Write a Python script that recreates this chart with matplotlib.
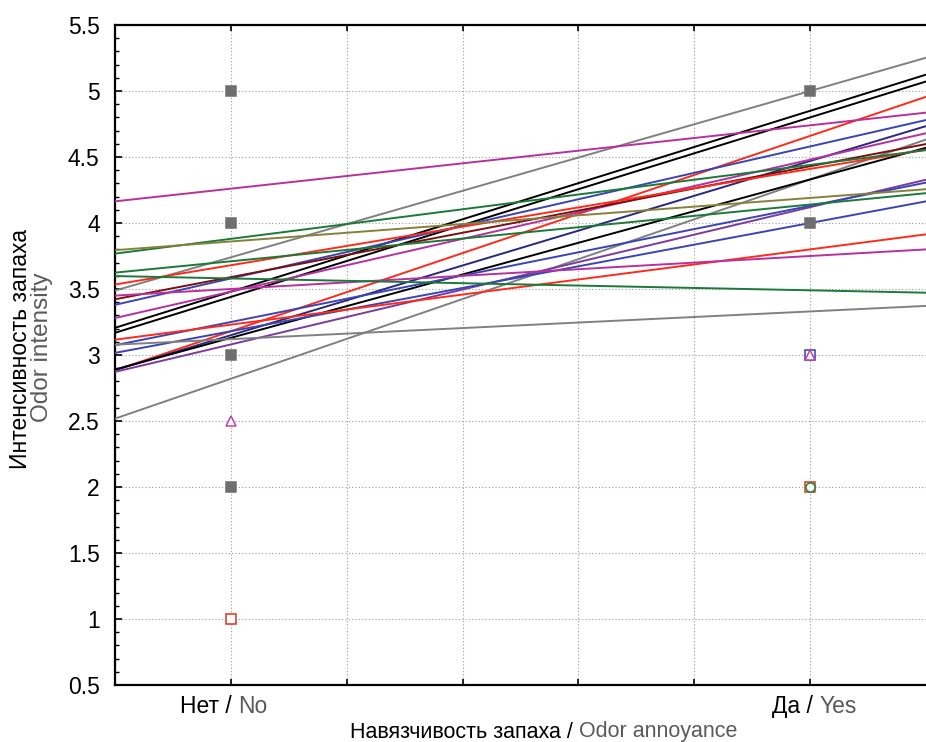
import matplotlib

matplotlib.use("Agg")
import matplotlib.pyplot as plt  # noqa: E402
import numpy as np  # noqa: E402
from matplotlib.ticker import FixedLocator, MultipleLocator, FuncFormatter  # noqa: E402

plt.rcParams["font.family"] = ["Liberation Sans", "DejaVu Sans"]

# ---------- Data ----------
# Fitted value of each respondent's line at "No" (x=0) and at "Yes" (x=1)
LINE_NO = [3.74, 3.48, 3.44, 3.18, 4.26, 3.58, 3.15, 3.48, 2.82, 3.59, 3.13,
           3.68, 3.88, 3.08, 3.25, 3.86, 3.71, 3.18, 3.23, 3.50, 3.58, 3.12]
LINE_YES = [5.00, 4.85, 4.80, 4.66, 4.74, 4.58, 4.47, 4.48, 4.33, 4.43, 4.33,
            4.41, 4.44, 4.12, 4.13, 4.19, 4.14, 4.00, 3.80, 3.75, 3.49, 3.33]
LINE_COLORS = ["#808080", "#000000", "#000000", "#ff2a1a", "#b8309e", "#3a44b4",
               "#27287e", "#b8309e", "#808080", "#7a1010", "#000000", "#ff2a1a",
               "#1a7a3a", "#7c3a9e", "#3a44b4", "#84823a", "#1a7a3a", "#3a44b4",
               "#ff2a1a", "#b8309e", "#1a7a3a", "#808080"]

# Observed answers
PT_X = [0, 0, 0, 0, 0, 0, 1, 1, 1, 1, 1, 1]
PT_Y = [5, 4, 3, 2, 2.5, 1, 5, 4, 3, 3, 2, 2]
PT_MARKER = ["s", "s", "s", "s", "^", "s", "s", "s", "s", "^", "s", "o"]
PT_COLOR = ["#6e6e6e", "#6e6e6e", "#6e6e6e", "#6e6e6e", "#c040b0", "#e03020",
            "#6e6e6e", "#6e6e6e", "#3a3ab0", "#c040b0", "#e03020", "#1a8a3a"]
PT_FILLED = [True, True, True, True, False, False,
             True, True, False, False, False, False]

X_TICKS = [0, 1]
X_LABELS_RU = ["Нет", "Да"]
X_LABELS_EN = ["No", "Yes"]
X_LABEL_SHIFT = [-0.088, -0.066]

GRAY_TEXT = "#5a5a5a"
FS = 16.5

fig = plt.figure(figsize=(9.26, 7.42), dpi=100)
ax = fig.add_axes([115 / 926, 57 / 742, 811 / 926, 660 / 742])

xs = np.array([-0.2, 1.2])
for v0, v1, c in zip(LINE_NO, LINE_YES, LINE_COLORS):
    ax.plot(xs, v0 + (v1 - v0) * xs, color=c, lw=1.4, zorder=3)

for x, y, m, c, filled in zip(PT_X, PT_Y, PT_MARKER, PT_COLOR, PT_FILLED):
    ax.plot([x], [y], marker=m, ms=7 if m == "s" else 6.5, mec=c,
            mfc=c if filled else "white", mew=1.1, ls="none", zorder=4)

ax.set_xlim(-0.2, 1.2)
ax.set_ylim(0.5, 5.5)
ax.xaxis.set_major_locator(FixedLocator([0, 0.2, 0.4, 0.6, 0.8, 1.0]))
ax.set_xticklabels([])
ax.yaxis.set_major_locator(MultipleLocator(0.5))
ax.yaxis.set_minor_locator(MultipleLocator(0.1))
ax.yaxis.set_major_formatter(FuncFormatter(lambda v, _: f"{v:g}"))

ax.grid(True, which="major", color="#9a9a9a", lw=0.8, ls=(0, (1, 2)), zorder=1)
ax.tick_params(axis="both", which="both", direction="in", top=True, right=False,
               color="black")
ax.tick_params(axis="y", which="major", length=5, width=1.2, labelsize=FS, pad=11)
ax.tick_params(axis="y", which="minor", length=3, width=1)
ax.tick_params(axis="x", which="major", length=4, width=1.2)

for side in ("left", "bottom", "top"):
    ax.spines[side].set_linewidth(1.6)
ax.spines["right"].set_visible(False)

# Bilingual category labels
trans = ax.get_xaxis_transform()
for xv, ru, en, dx in zip(X_TICKS, X_LABELS_RU, X_LABELS_EN, X_LABEL_SHIFT):
    t1 = ax.text(xv + dx, -0.032, ru + " / ", transform=trans, ha="left",
                 va="center", fontsize=FS)
    ax.annotate(en, xy=(1, 0), xycoords=t1, va="bottom", ha="left",
                fontsize=FS, color=GRAY_TEXT)

# Axis titles
t2 = fig.text(350 / 926, 1 - 732 / 742, "Навязчивость запаха / ", ha="left",
              va="center", fontsize=15.5)
ax.annotate("Odor annoyance", xy=(1, 0), xycoords=t2, va="bottom", ha="left",
            fontsize=15.5, color=GRAY_TEXT, annotation_clip=False)

fig.text(21 / 926, 1 - 349 / 742, "Интенсивность запаха", rotation=90,
         ha="center", va="center", fontsize=FS)
fig.text(42 / 926, 1 - 347 / 742, "Odor intensity", rotation=90,
         ha="center", va="center", fontsize=17.5, color=GRAY_TEXT)

fig.savefig("out.png", dpi=100, facecolor="white")
